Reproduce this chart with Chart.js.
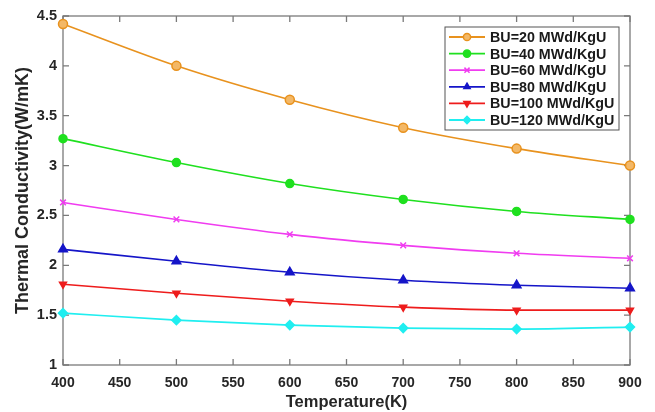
<!DOCTYPE html>
<html lang="en">
<head>
  <meta charset="UTF-8" />
  <title>Thermal Conductivity vs Temperature</title>
  <style>
    html, body { margin: 0; padding: 0; background: #fff; }
    #wrap { width: 655px; height: 412px; }
  </style>
  <script src="https://cdn.jsdelivr.net/npm/chart.js@4/dist/chart.umd.min.js"></script>
</head>
<body>
  <div id="wrap"><canvas id="kChart" width="655" height="412"></canvas></div>
  <script>
    // data
    const temps = [400, 500, 600, 700, 800, 900];
    const bu20 = [4.42, 4.00, 3.66, 3.38, 3.17, 3.00];
    const bu40 = [3.27, 3.03, 2.82, 2.66, 2.54, 2.46];
    const bu60 = [2.63, 2.46, 2.31, 2.20, 2.12, 2.07];
    const bu80 = [2.16, 2.04, 1.93, 1.85, 1.80, 1.77];
    const bu100 = [1.81, 1.72, 1.64, 1.58, 1.55, 1.55];
    const bu120 = [1.52, 1.45, 1.40, 1.37, 1.36, 1.38];
    const seriesNames = ["BU=20 MWd/KgU", "BU=40 MWd/KgU", "BU=60 MWd/KgU",
      "BU=80 MWd/KgU", "BU=100 MWd/KgU", "BU=120 MWd/KgU"];
    const xTicks = [400, 450, 500, 550, 600, 650, 700, 750, 800, 850, 900];
    const yTicks = [1, 1.5, 2, 2.5, 3, 3.5, 4, 4.5];

    const font = "'Liberation Sans', Arial, sans-serif";
    const axisColor = "#7a7a7a";

    function series(label, data, color, style, opts) {
      return Object.assign({
        label: label,
        data: data.map((v, i) => ({ x: temps[i], y: v })),
        borderColor: color,
        backgroundColor: color,
        pointBorderColor: color,
        pointBackgroundColor: color,
        borderWidth: 1.6,
        pointStyle: style,
        pointRadius: 4,
        pointBorderWidth: 1.5,
        tension: 0.35,
        cubicInterpolationMode: "monotone",
        clip: false
      }, opts || {});
    }

    const datasets = [
      series(seriesNames[0], bu20, "#e8921e", "circle", { pointBackgroundColor: "#f3b867", pointRadius: 4.5 }),
      series(seriesNames[1], bu40, "#1fe01f", "circle", { pointRadius: 4 }),
      series(seriesNames[2], bu60, "#f03cf0", "crossRot", { pointRadius: 4 }),
      series(seriesNames[3], bu80, "#1515c8", "triangle", { pointRadius: 5 }),
      series(seriesNames[4], bu100, "#ee1c1c", "triangle", { pointRadius: 4, pointRotation: 180 }),
      series(seriesNames[5], bu120, "#20eef0", "rectRot", { pointRadius: 4.5 })
    ];

    // MATLAB-like box with inward ticks, plus legend in the upper right
    const boxPlugin = {
      id: "boxPlugin",
      beforeDatasetsDraw(chart) {
        const { ctx, chartArea: a, scales } = chart;
        ctx.save();
        ctx.strokeStyle = axisColor;
        ctx.lineWidth = 1.3;
        ctx.strokeRect(a.left, a.top, a.right - a.left, a.bottom - a.top);
        ctx.beginPath();
        xTicks.forEach(t => {
          const x = scales.x.getPixelForValue(t);
          ctx.moveTo(x, a.bottom); ctx.lineTo(x, a.bottom - 6);
          ctx.moveTo(x, a.top); ctx.lineTo(x, a.top + 6);
        });
        yTicks.forEach(t => {
          const y = scales.y.getPixelForValue(t);
          ctx.moveTo(a.left, y); ctx.lineTo(a.left + 6, y);
          ctx.moveTo(a.right, y); ctx.lineTo(a.right - 6, y);
        });
        ctx.stroke();
        ctx.restore();
      },
      afterDraw(chart) {
        const { ctx } = chart;
        ctx.save();
        const lx = 445, ly = 27, lw = 174, lh = 103, row = 16.6;
        ctx.fillStyle = "#fff";
        ctx.fillRect(lx, ly, lw, lh);
        ctx.strokeStyle = "#555";
        ctx.lineWidth = 1;
        ctx.strokeRect(lx, ly, lw, lh);
        ctx.font = "bold 14.3px " + font;
        ctx.textBaseline = "middle";
        chart.data.datasets.forEach((ds, i) => {
          const y = ly + 10 + i * row;
          ctx.strokeStyle = ds.borderColor;
          ctx.lineWidth = 1.8;
          ctx.beginPath();
          ctx.moveTo(lx + 4, y); ctx.lineTo(lx + 40, y);
          ctx.stroke();
          ctx.fillStyle = ds.pointBackgroundColor;
          ctx.strokeStyle = ds.pointBorderColor;
          ctx.lineWidth = 1.5;
          Chart.helpers.drawPoint(ctx, {
            pointStyle: ds.pointStyle,
            radius: 3.6,
            rotation: ds.pointRotation || 0,
            borderWidth: 1.5
          }, lx + 22, y);
          ctx.fillStyle = "#1a1a1a";
          ctx.fillText(ds.label, lx + 45, y + 1);
        });
        ctx.restore();
      }
    };

    new Chart(document.getElementById("kChart"), {
      type: "line",
      data: { datasets: datasets },
      options: {
        responsive: false,
        animation: false,
        layout: { padding: { top: 16, right: 25, left: 12, bottom: 0 } },
        plugins: { legend: { display: false }, tooltip: { enabled: false } },
        scales: {
          x: {
            type: "linear",
            min: 400, max: 900,
            afterBuildTicks: s => { s.ticks = xTicks.map(v => ({ value: v })); },
            afterFit: s => { s.height = 47; },
            grid: { display: false },
            border: { display: false },
            ticks: { color: "#262626", font: { family: font, size: 14, weight: "bold" }, padding: 2 },
            title: { display: true, text: "Temperature(K)", color: "#262626",
              font: { family: font, size: 16.5, weight: "bold" }, padding: { top: 0, bottom: 0 } }
          },
          y: {
            min: 1, max: 4.5,
            afterBuildTicks: s => { s.ticks = yTicks.map(v => ({ value: v })); },
            afterFit: s => { s.width = 51; },
            grid: { display: false },
            border: { display: false },
            ticks: { color: "#262626", font: { family: font, size: 14.5, weight: "bold" }, padding: -2,
              callback: v => String(v) },
            title: { display: true, text: "Thermal Conductivity(W/mK)", color: "#262626",
              font: { family: font, size: 18, weight: "bold" }, padding: { top: 0, bottom: 0 } }
          }
        }
      },
      plugins: [boxPlugin]
    });
  </script>
</body>
</html>
